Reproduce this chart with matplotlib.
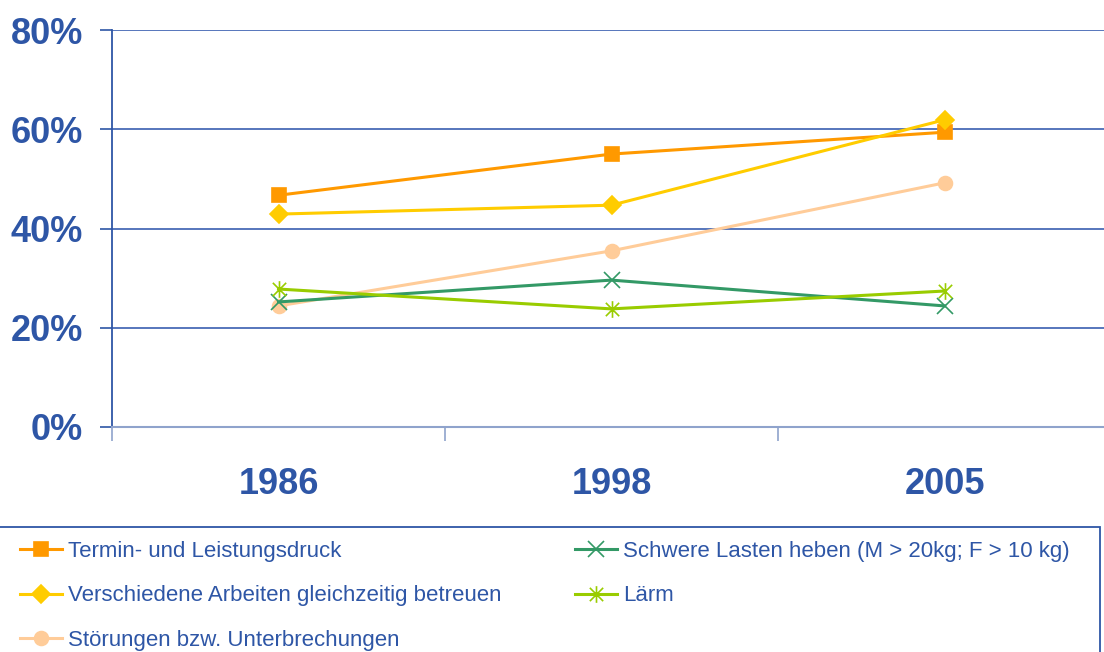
import matplotlib
matplotlib.use('Agg')
import numpy as np
import matplotlib.pyplot as plt
from matplotlib.path import Path
from matplotlib.patches import Rectangle

plt.rcParams['font.family'] = ['Liberation Sans', 'DejaVu Sans']

years = ['1986', '1998', '2005']

termin       = [46.7, 55.0, 59.4]
verschiedene = [42.9, 44.7, 61.9]
stoerungen   = [24.4, 35.5, 49.2]
schwere      = [25.2, 29.6, 24.4]
laerm        = [27.8, 23.8, 27.4]

labels = ['Termin- und Leistungsdruck',
          'Verschiedene Arbeiten gleichzeitig betreuen',
          'Störungen bzw. Unterbrechungen',
          'Schwere Lasten heben (M > 20kg; F > 10 kg)',
          'Lärm']

yticks = [0, 20, 40, 60, 80]

blue = '#2E56A6'

# excel-style star: an X with a vertical bar through it
star = Path([(-1, -1), (1, 1), (-1, 1), (1, -1), (0, -1.25), (0, 1.25)],
            [Path.MOVETO, Path.LINETO, Path.MOVETO, Path.LINETO,
             Path.MOVETO, Path.LINETO])

W, H = 1104, 652
fig = plt.figure(figsize=(W / 100, H / 100), dpi=100)
# axes runs a bit past the right edge, like the original
ax = fig.add_axes([112 / W, (H - 427) / H, 999 / W, 397 / H])

x = np.arange(len(years)) + 0.5

series = [
    (termin,       '#FF9900', 's', 10),
    (verschiedene, '#FFCC00', 'D', 9),
    (stoerungen,   '#FFCC99', 'o', 10),
    (schwere,      '#339966', 'x', 11),
    (laerm,        '#99CC00', star, 12),
]

for (vals, col, mk, ms), lab in zip(series, labels):
    ax.plot(x, vals, color=col, lw=2.2, marker=mk, ms=ms,
            mfc=col, mec=col, mew=1.2, label=lab, clip_on=False, zorder=3)

ax.set_xlim(0, 3)
ax.set_ylim(0, 80)
ax.set_yticks(yticks)
ax.set_yticklabels([f'{v}%' for v in yticks])
ax.set_xticks([0, 1, 2, 3])
ax.set_xticklabels([])
ax.set_xticks(x, minor=True)
ax.set_xticklabels(years, minor=True)

for v in yticks[1:]:
    ax.axhline(v, color='#3A5FB0', lw=1.2, zorder=1)

for s in ['top', 'right']:
    ax.spines[s].set_visible(False)
ax.spines['left'].set_color(blue)
ax.spines['left'].set_linewidth(1.3)
ax.spines['bottom'].set_color('#8FA3CC')
ax.spines['bottom'].set_linewidth(1.5)

ax.tick_params(axis='y', which='major', length=9, width=1.2, color=blue,
               labelsize=26, labelcolor=blue, pad=12)
ax.tick_params(axis='x', which='major', length=10, width=1.2, color='#8FA3CC')
ax.tick_params(axis='x', which='minor', length=0, labelsize=26,
               labelcolor=blue, pad=29)
for t in ax.get_yticklabels() + ax.get_xticklabels(minor=True):
    t.set_fontweight('bold')

# legend frame, runs off the left and bottom edges
fig.patches.append(Rectangle((-5 / W, -20 / H), 1105 / W, (H - 527 + 20) / H,
                             transform=fig.transFigure, fill=False,
                             edgecolor=blue, lw=1.3))

leg = fig.legend(loc='upper left', bbox_to_anchor=(0, (H - 521) / H),
                 ncol=2, frameon=False, fontsize=16, labelcolor=blue,
                 handlelength=1.9, handletextpad=0.27, columnspacing=3.3,
                 labelspacing=1.05)

fig.savefig('out.png', dpi=100)
